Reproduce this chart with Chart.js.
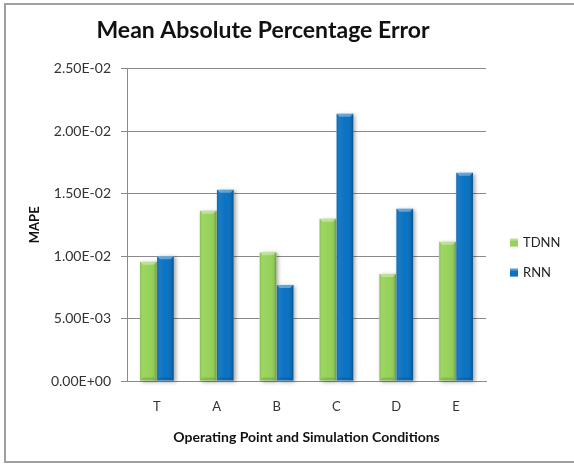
<!DOCTYPE html>
<html>
<head>
<meta charset="utf-8">
<script src="https://cdn.jsdelivr.net/npm/chart.js@4/dist/chart.umd.min.js"></script>
<style>
  html, body { margin: 0; padding: 0; background: #fff; overflow: hidden; }
  #wrap { position: relative; width: 574px; height: 466px; }
  #frame { position: absolute; left: 4px; top: 3px; width: 600px; height: 460px;
           border: 2px solid #a0a0a0; box-sizing: border-box; pointer-events: none; }
  canvas { position: absolute; left: 0; top: 0; }
</style>
</head>
<body>
<div id="wrap">
  <canvas id="chart" width="574" height="466"></canvas>
  <div id="frame"></div>
</div>
<script>
// MAPE per operating point / simulation condition
const categories = ['T', 'A', 'B', 'C', 'D', 'E'];
const seriesNames = ['TDNN', 'RNN'];
const tdnnValues = [0.00955, 0.01362, 0.01030, 0.01298, 0.00857, 0.01114];
const rnnValues  = [0.00998, 0.01530, 0.00769, 0.02139, 0.01378, 0.01667];
const yTickValues = [0, 0.005, 0.01, 0.015, 0.02, 0.025];

const FONT = 'Lato, "Open Sans", sans-serif';
const seriesColors = ['#97d35a', '#0b72c2'];

// Excel style scientific label: 2.50E-02, 0.00E+00
function sciLabel(v) {
    if (v === 0) return '0.00E+00';
    let exp = Math.floor(Math.log10(Math.abs(v)) + 1e-9);
    const mant = v / Math.pow(10, exp);
    const sign = exp < 0 ? '-' : '+';
    exp = Math.abs(exp);
    return mant.toFixed(2) + 'E' + sign + (exp < 10 ? '0' + exp : exp);
}

// soft shadow behind each bar, then the flat fill goes on top
const barShadow = {
    id: 'barShadow',
    beforeDatasetsDraw(chart) {
        const ctx = chart.ctx;
        ctx.save();
        ctx.shadowColor = 'rgba(0,0,0,0.35)';
        ctx.shadowBlur = 4;
        ctx.shadowOffsetX = 2;
        ctx.shadowOffsetY = 1;
        ctx.fillStyle = '#ffffff';
        chart.data.datasets.forEach((ds, i) => {
            chart.getDatasetMeta(i).data.forEach(bar => {
                ctx.fillRect(bar.x - bar.width / 2, bar.y, bar.width, bar.base - bar.y);
            });
        });
        ctx.restore();
    }
};

// bevel: lighter top cap, shaded sides and bottom
const barBevel = {
    id: 'barBevel',
    afterDatasetsDraw(chart) {
        const ctx = chart.ctx;
        ctx.save();
        chart.data.datasets.forEach((ds, i) => {
            chart.getDatasetMeta(i).data.forEach(bar => {
                const l = bar.x - bar.width / 2, r = bar.x + bar.width / 2;
                const t = bar.y, b = bar.base, e = 3;
                const g = ctx.createLinearGradient(l, 0, r, 0);
                g.addColorStop(0, 'rgba(0,0,0,0.10)');
                g.addColorStop(0.15, 'rgba(255,255,255,0.06)');
                g.addColorStop(0.5, 'rgba(255,255,255,0.0)');
                g.addColorStop(0.85, 'rgba(0,0,0,0.06)');
                g.addColorStop(1, 'rgba(0,0,0,0.28)');
                ctx.fillStyle = g;
                ctx.fillRect(l, t, r - l, b - t);
                // top cap
                ctx.fillStyle = 'rgba(255,255,255,0.35)';
                ctx.beginPath();
                ctx.moveTo(l, t); ctx.lineTo(r, t); ctx.lineTo(r - e, t + e); ctx.lineTo(l + e, t + e);
                ctx.closePath(); ctx.fill();
                // bottom
                ctx.fillStyle = 'rgba(0,0,0,0.12)';
                ctx.beginPath();
                ctx.moveTo(l, b); ctx.lineTo(r, b); ctx.lineTo(r - e, b - e); ctx.lineTo(l + e, b - e);
                ctx.closePath(); ctx.fill();
            });
        });
        ctx.restore();
    }
};

// legend to the right of the plot
const sideLegend = {
    id: 'sideLegend',
    afterDraw(chart) {
        const ctx = chart.ctx;
        const x = chart.chartArea.right + 24;
        const y0 = chart.chartArea.top + 174;
        ctx.save();
        ctx.font = '13px ' + FONT;
        ctx.textBaseline = 'middle';
        chart.data.datasets.forEach((ds, i) => {
            const y = y0 + i * 30;
            ctx.fillStyle = ds.backgroundColor;
            ctx.fillRect(x, y - 4, 8, 8);
            ctx.fillStyle = 'rgba(255,255,255,0.3)';
            ctx.fillRect(x, y - 4, 8, 2);
            ctx.fillStyle = '#222';
            ctx.fillText(ds.label, x + 13, y);
        });
        ctx.restore();
    }
};

new Chart(document.getElementById('chart'), {
    type: 'bar',
    data: {
        labels: categories,
        datasets: [
            { label: seriesNames[0], data: tdnnValues, backgroundColor: seriesColors[0] },
            { label: seriesNames[1], data: rnnValues, backgroundColor: seriesColors[1] }
        ]
    },
    options: {
        responsive: false,
        animation: false,
        categoryPercentage: 0.57,
        barPercentage: 0.98,
        layout: { padding: { left: 40, right: 88, top: 0, bottom: 10 } },
        plugins: {
            legend: { display: false },
            tooltip: { enabled: false },
            title: {
                display: true,
                text: 'Mean Absolute Percentage Error',
                color: '#111',
                font: { family: FONT, size: 23, weight: 'bold' },
                padding: { top: 17, bottom: 24 }
            }
        },
        scales: {
            x: {
                afterFit(scale) { scale.height = 75; },
                grid: { display: false, tickLength: 0 },
                border: { display: true, color: '#8a8a8a', width: 1 },
                ticks: { color: '#333', font: { family: FONT, size: 13 }, padding: 18 },
                title: {
                    display: true,
                    text: 'Operating Point and Simulation Conditions',
                    color: '#111',
                    font: { family: FONT, size: 14, weight: 'bold' },
                    padding: { top: 14, bottom: 10 }
                }
            },
            y: {
                min: 0,
                max: 0.025,
                afterFit(scale) { scale.width = 87; },
                afterBuildTicks(scale) { scale.ticks = yTickValues.map(v => ({ value: v })); },
                grid: { color: '#8a8a8a', tickLength: 6 },
                border: { display: true, color: '#8a8a8a', width: 1 },
                ticks: {
                    color: '#333',
                    font: { family: FONT, size: 14 },
                    padding: 10,
                    callback: v => sciLabel(v)
                },
                title: {
                    display: true,
                    text: 'MAPE',
                    color: '#111',
                    font: { family: FONT, size: 13, weight: 'bold' },
                    padding: { top: -13, bottom: 0 }
                }
            }
        }
    },
    plugins: [barShadow, barBevel, sideLegend]
});
</script>
</body>
</html>
